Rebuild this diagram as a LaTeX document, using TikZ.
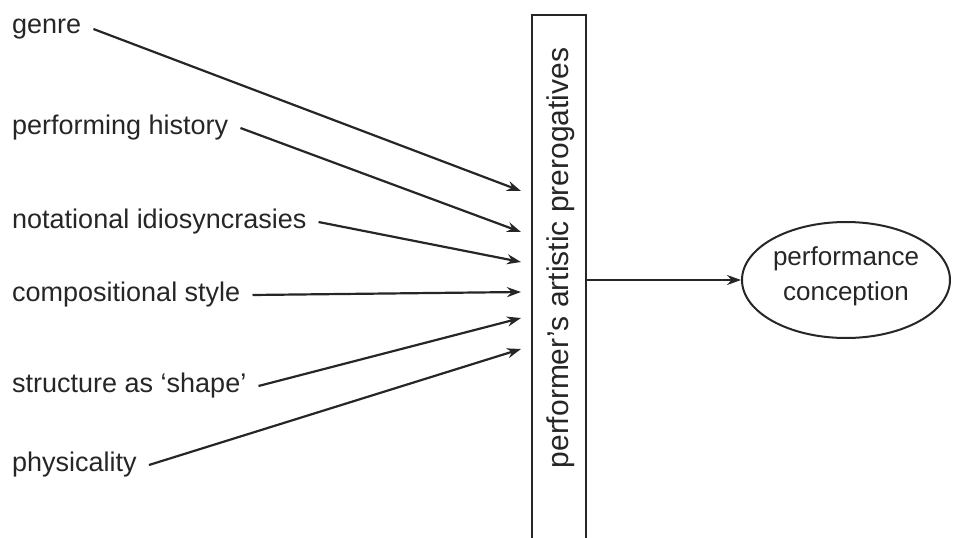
\documentclass[tikz,border=0pt]{standalone}
\usepackage{fontspec}
\setmainfont{Liberation Sans}
\usetikzlibrary{arrows.meta,shapes.geometric,calc}
\definecolor{ink}{HTML}{262626}
\begin{document}
\begin{tikzpicture}[x=1pt,y=-1pt,
  lbl/.style={anchor=west,inner xsep=12pt,inner ysep=0pt,font=\fontsize{27}{32}\selectfont,text=ink},
  conn/.style={draw=ink,line width=2.2pt,-{Stealth[length=14pt,width=10pt]}},
  boxstyle/.style={draw=ink,line width=2.2pt,minimum width=54,minimum height=560,inner sep=0pt},
  ell/.style={ellipse,draw=ink,line width=2pt,minimum width=208,minimum height=116,inner sep=0pt},
  elltext/.style={align=center,font=\fontsize{26}{35}\selectfont,text=ink,inner sep=0pt}]
\useasboundingbox (0,0) rectangle (954,538);
\clip (0,0) rectangle (954,538);
\node[boxstyle] (box) at (559,295) {};
\node[rotate=90,font=\fontsize{30}{36}\selectfont,text=ink] (boxlabel) at (561,258) {performer’s artistic prerogatives};
\node[ell] (pc) at (846,280) {};
\node[elltext] (pctext) at (846,276) {performance\\conception};
\node[lbl] (l1) at (0,29) {genre};
\node[lbl] (l2) at (0,128) {performing history};
\node[lbl] (l3) at (0,222) {notational idiosyncrasies};
\node[lbl] (l4) at (0,295) {compositional style};
\node[lbl] (l5) at (0,386) {structure as ‘shape’};
\node[lbl] (l6) at (0,465) {physicality};
\coordinate (t1) at (521,191);
\coordinate (t2) at (521,232);
\coordinate (t3) at (521,262);
\coordinate (t4) at (521,292);
\coordinate (t5) at (521,318);
\coordinate (t6) at (521,349);
\draw[conn] (l1.east) -- (t1);
\draw[conn] (l2.east) -- (t2);
\draw[conn] (l3.east) -- (t3);
\draw[conn] (l4.east) -- (t4);
\draw[conn] (l5.east) -- (t5);
\draw[conn] (l6.east) -- (t6);
\draw[conn] (box.east |- pc.west) -- (pc.west);
\end{tikzpicture}
\end{document}
